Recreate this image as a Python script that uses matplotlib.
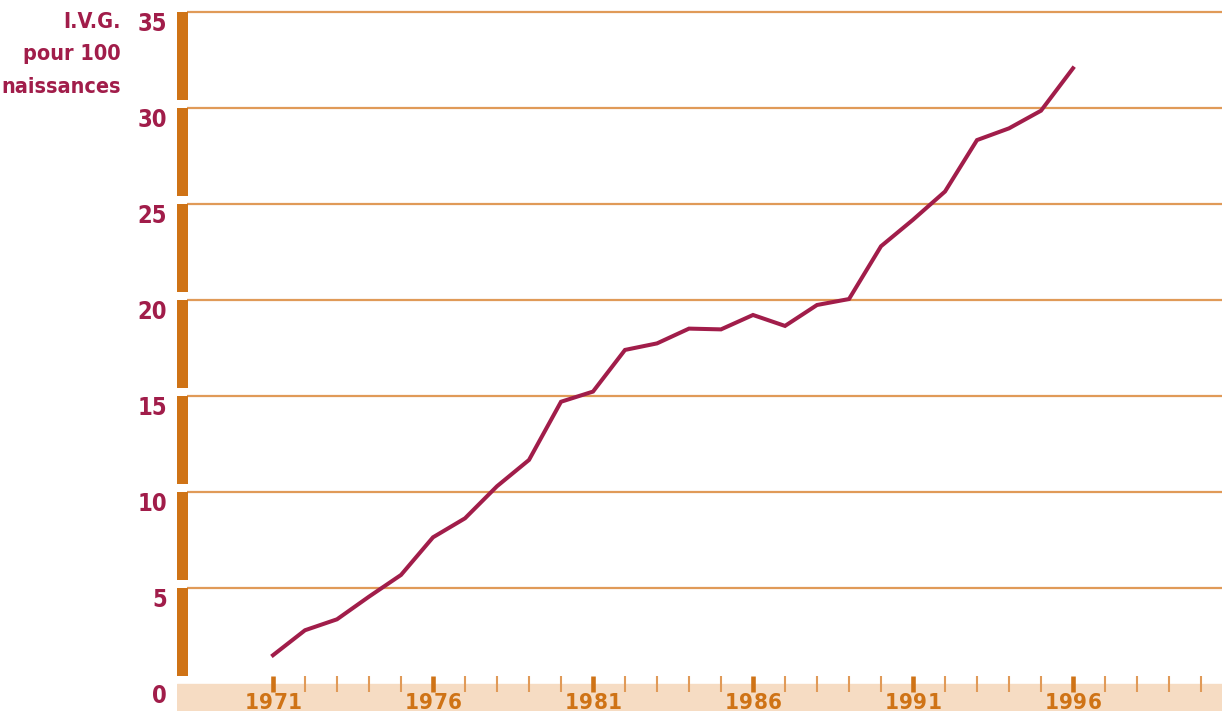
import matplotlib
matplotlib.use("Agg")
import matplotlib.pyplot as plt

plt.rcParams['font.family'] = ['DejaVu Sans']
plt.rcParams['font.stretch'] = 'condensed'

# I.V.G. pour 100 naissances, 1971-1996
years = list(range(1971, 1997))
ivg = [1.5, 2.8, 3.37, 4.55, 5.68, 7.64, 8.63, 10.3, 11.67, 14.7,
       15.23, 17.4, 17.74, 18.51, 18.47, 19.22, 18.65, 19.74, 20.05, 22.8,
       24.18, 25.65, 28.33, 28.94, 29.86, 32.07]

y_ticks = [0, 5, 10, 15, 20, 25, 30, 35]
major_years = [1971, 1976, 1981, 1986, 1991, 1996]
minor_years = list(range(1971, 2001))

crimson = '#a11d4a'
orange = '#cf7316'
grid_col = '#e09a58'
band_col = '#f6dcc3'

fig = plt.figure(figsize=(12.22, 7.11), dpi=100)
ax = fig.add_axes([177 / 1222, 0, 1045 / 1222, 1])
ax.set_xlim(1968.0, 2000.656)
ax.set_ylim(-1.406, 35.625)
ax.axis('off')

# bottom band
ax.axhspan(-1.406, 0, color=band_col, zorder=1)

# horizontal grid lines
for v in y_ticks[1:]:
    ax.plot([1968.3, 2000.656], [v, v], color=grid_col, lw=1.6, zorder=2,
            solid_capstyle='butt')

# vertical orange bar segments on the left
gap = 0.43
for v in y_ticks[1:]:
    ax.bar(1968.0, 5 - gap, width=0.33, bottom=v - 5 + gap, align='edge',
           color=orange, zorder=3, linewidth=0)

# year ticks
for yr in minor_years:
    if yr in major_years:
        ax.plot([yr, yr], [-0.42, 0.42], color=orange, lw=3.3, zorder=4,
                solid_capstyle='butt')
    else:
        ax.plot([yr, yr], [-0.42, 0.42], color=grid_col, lw=1.5, zorder=4,
                solid_capstyle='butt')

# data line
ax.plot(years, ivg, color=crimson, lw=2.9, zorder=5, solid_joinstyle='miter')

# year labels, letter-spaced
pitch = 14.5 * 0.72
for yr in major_years:
    s = str(yr)
    for i, ch in enumerate(s):
        ax.annotate(ch, (yr, -1.3), xytext=((i - 1.5) * pitch, 0),
                    textcoords='offset points', ha='center', va='baseline',
                    fontsize=16, fontweight='bold', color=orange,
                    annotation_clip=False)

# y labels
for v in y_ticks:
    ax.text(1967.69, v - 1.0, str(v), ha='right', va='baseline',
            fontsize=17, fontweight='bold', color=crimson, clip_on=False)

ax.text(1966.25, 35.0, 'I.V.G.\npour 100\nnaissances', ha='right', va='top',
        fontsize=15.5, fontweight='bold', color=crimson, linespacing=1.77,
        clip_on=False)

fig.savefig('out.png', dpi=100)
